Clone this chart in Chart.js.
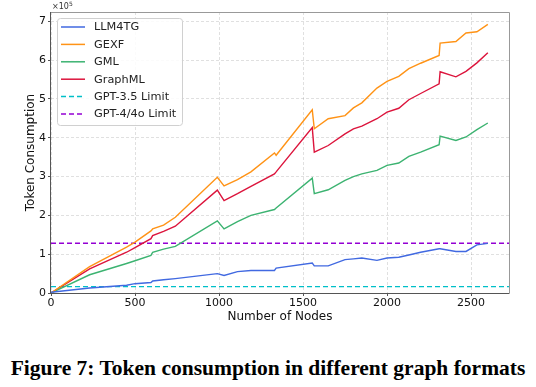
<!DOCTYPE html>
<html>
<head>
<meta charset="utf-8">
<script src="https://cdn.jsdelivr.net/npm/chart.js@4/dist/chart.umd.min.js"></script>
<style>
  body { margin: 0; background: #fff; }
  #wrap { width: 536px; height: 330px; }
  #caption {
    margin-top: 25px;
    text-align: center;
    font-family: "Liberation Serif", "DejaVu Serif", serif;
    font-weight: bold;
    font-size: 21.5px;
    line-height: 26px;
    color: #000;
  }
</style>
</head>
<body>
<div id="wrap"><canvas id="chart" width="536" height="330"></canvas></div>
<div id="caption">Figure 7: Token consumption in different graph formats</div>
<script>
// node counts (x) and token consumption in units of 1e5
const nodes = [0, 230, 450, 500, 595, 605, 670, 740, 990, 1030, 1110, 1190, 1330, 1340, 1555, 1567,
  1650, 1750, 1800, 1850, 1940, 2000, 2070, 2130, 2200, 2310, 2316, 2410, 2470, 2535, 2600];

const llm4tg = [0.02, 0.13, 0.20, 0.24, 0.27, 0.31, 0.34, 0.37, 0.50, 0.45, 0.55, 0.58, 0.58, 0.64, 0.77, 0.70,
  0.70, 0.86, 0.88, 0.90, 0.84, 0.90, 0.92, 0.98, 1.05, 1.14, 1.14, 1.07, 1.07, 1.24, 1.28];
const gexf = [0, 0.68, 1.18, 1.31, 1.60, 1.65, 1.75, 1.95, 2.98, 2.76, 2.92, 3.12, 3.61, 3.55, 4.72, 4.23,
  4.49, 4.57, 4.77, 4.90, 5.28, 5.45, 5.58, 5.78, 5.92, 6.12, 6.44, 6.48, 6.70, 6.73, 6.92];
const gml = [0, 0.47, 0.76, 0.83, 0.97, 1.05, 1.13, 1.20, 1.86, 1.65, 1.84, 2.00, 2.15, 2.19, 2.96, 2.56,
  2.66, 2.90, 3.00, 3.07, 3.16, 3.29, 3.35, 3.52, 3.63, 3.82, 4.04, 3.93, 4.02, 4.21, 4.38];
const graphml = [0, 0.62, 1.05, 1.17, 1.40, 1.48, 1.59, 1.72, 2.65, 2.38, 2.56, 2.75, 3.07, 3.12, 4.26, 3.63,
  3.80, 4.10, 4.23, 4.30, 4.49, 4.66, 4.76, 4.98, 5.14, 5.39, 5.70, 5.57, 5.71, 5.93, 6.19];

const gpt35Limit = 0.164;
const gpt4Limit = 1.28;

const xTicks = [0, 500, 1000, 1500, 2000, 2500];
const yTicks = [0, 1, 2, 3, 4, 5, 6, 7];
const xMax = 2726;
const yMax = 7.24;

function pts(ys) {
  return nodes.map((n, i) => ({ x: n, y: ys[i] }));
}
function flat(v) {
  return [{ x: 0, y: v }, { x: xMax, y: v }];
}

const tickFont = { family: "DejaVu Sans", size: 11 };

// legend box inside the plot, plus the axes frame and the x10^5 offset label
const framePlugin = {
  id: 'frame',
  afterDraw(chart) {
    const { ctx, chartArea: a } = chart;
    ctx.save();
    ctx.lineWidth = 1;
    ctx.strokeStyle = '#999';
    ctx.beginPath();
    ctx.moveTo(a.left, a.top + 0.5); ctx.lineTo(a.right + 0.5, a.top + 0.5);
    ctx.lineTo(a.right + 0.5, a.bottom);
    ctx.stroke();
    ctx.strokeStyle = '#555';
    ctx.beginPath();
    ctx.moveTo(a.left - 0.5, a.top); ctx.lineTo(a.left - 0.5, a.bottom + 0.5);
    ctx.lineTo(a.right + 0.5, a.bottom + 0.5);
    ctx.stroke();

    ctx.fillStyle = '#333';
    ctx.font = '8px "DejaVu Sans"';
    ctx.textBaseline = 'alphabetic';
    ctx.fillText('×10', a.left + 1, a.top - 3);
    const w = ctx.measureText('×10').width;
    ctx.font = '6px "DejaVu Sans"';
    ctx.fillText('5', a.left + 1 + w, a.top - 6);

    // legend
    const bx = 57, by = 18, bw = 125, bh = 107;
    ctx.fillStyle = 'rgba(255,255,255,0.85)';
    ctx.strokeStyle = '#d0d0d0';
    ctx.beginPath();
    ctx.roundRect(bx + 0.5, by + 0.5, bw, bh, 3);
    ctx.fill();
    ctx.stroke();
    ctx.font = '11.3px "DejaVu Sans"';
    ctx.textBaseline = 'middle';
    chart.data.datasets.forEach((ds, i) => {
      const y = 27 + i * 17.4;
      ctx.strokeStyle = ds.borderColor;
      ctx.lineWidth = 1.5;
      ctx.setLineDash(ds.borderDash || []);
      ctx.beginPath();
      ctx.moveTo(61, y); ctx.lineTo(85, y);
      ctx.stroke();
      ctx.setLineDash([]);
      ctx.fillStyle = '#222';
      ctx.fillText(ds.label, 94, y + 0.5);
    });
    ctx.restore();
  }
};

const lineOpts = { borderWidth: 1.4, pointRadius: 0, tension: 0, fill: false };

new Chart(document.getElementById('chart'), {
  type: 'line',
  data: {
    datasets: [
      { label: 'LLM4TG', data: pts(llm4tg), borderColor: '#4169e1', ...lineOpts },
      { label: 'GEXF', data: pts(gexf), borderColor: '#ff9316', ...lineOpts },
      { label: 'GML', data: pts(gml), borderColor: '#3cb371', ...lineOpts },
      { label: 'GraphML', data: pts(graphml), borderColor: '#dc143c', ...lineOpts },
      { label: 'GPT-3.5 Limit', data: flat(gpt35Limit), borderColor: '#00bfc8', borderDash: [5, 3], ...lineOpts },
      { label: 'GPT-4/4o Limit', data: flat(gpt4Limit), borderColor: '#9400d3', borderDash: [5, 3], ...lineOpts }
    ]
  },
  options: {
    responsive: false,
    animation: false,
    layout: { padding: { left: 0, right: 27, top: 12, bottom: 0 } },
    plugins: { legend: { display: false }, tooltip: { enabled: false } },
    scales: {
      x: {
        type: 'linear',
        min: 0,
        max: xMax,
        afterBuildTicks: s => { s.ticks = xTicks.map(v => ({ value: v })); },
        afterFit: s => { s.height = 37; },
        ticks: { font: tickFont, color: '#111', padding: 1, maxRotation: 0, callback: v => String(v) },
        grid: { color: 'rgba(0,0,0,0.12)', tickColor: '#555', tickLength: 3 },
        border: { display: false, dash: [3, 2] },
        title: { display: true, text: 'Number of Nodes', color: '#111',
          font: { family: "DejaVu Sans", size: 12 }, padding: { top: 0, bottom: 6 } }
      },
      y: {
        min: 0,
        max: yMax,
        afterBuildTicks: s => { s.ticks = yTicks.map(v => ({ value: v })); },
        afterFit: s => { s.width = 51; },
        ticks: { font: tickFont, color: '#111', padding: 2, callback: v => String(v) },
        grid: { color: 'rgba(0,0,0,0.12)', tickColor: '#555', tickLength: 3 },
        border: { display: false, dash: [3, 2] },
        title: { display: true, text: 'Token Consumption', color: '#111',
          font: { family: "DejaVu Sans", size: 12 }, padding: { top: 24, bottom: 0 } }
      }
    }
  },
  plugins: [framePlugin]
});
</script>
</body>
</html>
